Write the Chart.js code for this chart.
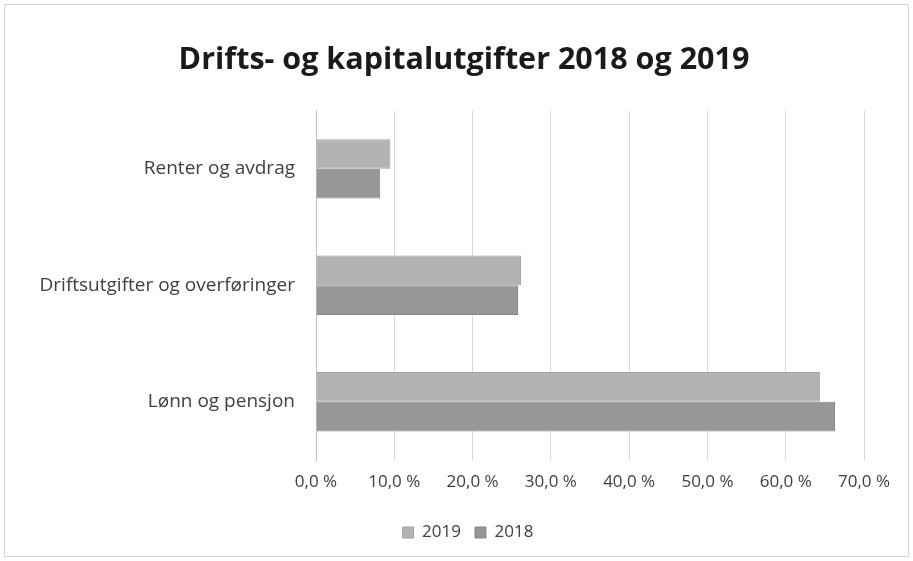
<!DOCTYPE html>
<html>
<head>
<meta charset="utf-8">
<script src="https://cdn.jsdelivr.net/npm/chart.js@4/dist/chart.umd.min.js"></script>
<style>
  html, body { margin: 0; padding: 0; background: #fff; }
  #wrap { width: 913px; height: 561px; }
</style>
</head>
<body>
<div id="wrap"><canvas id="chart" width="913" height="561"></canvas></div>
<script>
var categories = ["Renter og avdrag", "Driftsutgifter og overføringer", "Lønn og pensjon"];
var values2019 = [9.5, 26.2, 64.4];
var values2018 = [8.2, 25.8, 66.3];
var xTicks = [0, 10, 20, 30, 40, 50, 60, 70];

var frame = {
    id: 'frame',
    afterLayout: function(chart){
        // title and legend sit centred on the whole picture, not on the padded box
        if (chart.titleBlock) { chart.titleBlock.left += 32; chart.titleBlock.right += 32; }
        if (chart.legend) { chart.legend.left += 36; chart.legend.right += 36; }
    },
    beforeDraw: function(chart){
        let c = chart.ctx;
        c.save();
        c.fillStyle = '#fff';
        c.fillRect(0, 0, chart.width, chart.height);
        c.strokeStyle = '#d6d6d6';
        c.lineWidth = 1;
        c.strokeRect(4.5, 4.5, chart.width - 9, chart.height - 9);
        c.restore();
    }
};

window.onload = function(){
    let ctx = document.getElementById("chart");
    new Chart(ctx, {
        type: 'bar',
        data: {
            labels: categories,
            datasets: [
                { label: '2019', data: values2019, backgroundColor: '#b3b3b3', borderColor: '#a2a2a2', borderWidth: 1 },
                { label: '2018', data: values2018, backgroundColor: '#979797', borderColor: '#868686', borderWidth: 1 }
            ]
        },
        options: {
            indexAxis: 'y',
            responsive: false,
            animation: false,
            layout: { padding: { left: 0, right: 49, top: 0, bottom: 10 } },
            datasets: { bar: { categoryPercentage: 0.51, barPercentage: 1.0 } },
            scales: {
                x: {
                    min: 0, max: 70,
                    afterBuildTicks: function(scale){ scale.ticks = xTicks.map(function(v){ return { value: v }; }); },
                    ticks: {
                        color: '#404040',
                        font: { family: 'Open Sans', size: 17 },
                        padding: 12,
                        callback: function(v){ return v.toFixed(1).replace('.', ',') + ' %'; }
                    },
                    grid: { color: '#d9d9d9', drawTicks: false },
                    border: { display: false },
                    afterFit: function(scale){ scale.height = 50; }
                },
                y: {
                    ticks: {
                        color: '#404040',
                        font: { family: 'Open Sans', size: 19 },
                        padding: 21
                    },
                    grid: { display: false, drawTicks: false },
                    border: { display: true, color: '#bfbfbf' },
                    afterFit: function(scale){ scale.width = 316; }
                }
            },
            plugins: {
                title: {
                    display: true,
                    text: 'Drifts- og kapitalutgifter 2018 og 2019',
                    color: '#1a1a1a',
                    font: { family: 'Open Sans', size: 30.5, weight: 'bold' },
                    padding: { top: 42, bottom: 32 }
                },
                legend: {
                    position: 'bottom',
                    labels: {
                        color: '#404040',
                        font: { family: 'Open Sans', size: 17 },
                        boxWidth: 11,
                        boxHeight: 11,
                        padding: 14
                    }
                },
                tooltip: { enabled: false }
            }
        },
        plugins: [frame]
    });
};
</script>
</body>
</html>
